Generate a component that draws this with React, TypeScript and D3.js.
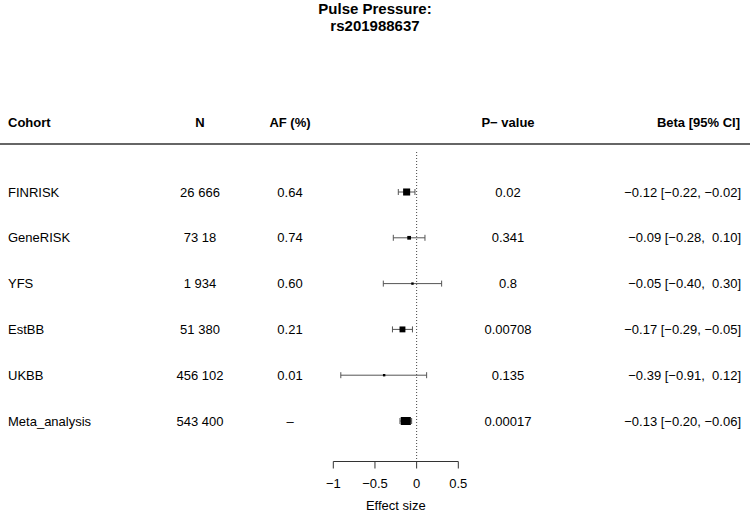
import React, { useEffect, useRef } from "react";
import * as d3 from "d3";

const cohorts = ["FINRISK", "GeneRISK", "YFS", "EstBB", "UKBB", "Meta_analysis"];
const nLabels = ["26 666", "73 18", "1 934", "51 380", "456 102", "543 400"];
const afLabels = ["0.64", "0.74", "0.60", "0.21", "0.01", "\u2013"];
const pLabels = ["0.02", "0.341", "0.8", "0.00708", "0.135", "0.00017"];
const betas = [-0.12, -0.09, -0.05, -0.17, -0.39, -0.13];
const lowers = [-0.22, -0.28, -0.4, -0.29, -0.91, -0.2];
const uppers = [-0.02, 0.1, 0.3, -0.05, 0.12, -0.06];
const xTicks = [-1, -0.5, 0, 0.5];

const W = 750;
const H = 512;
const FONT = "'Liberation Sans', Arial, Helvetica, sans-serif";

const App: React.FC = () => {
  const ref = useRef<SVGSVGElement>(null);

  useEffect(() => {
    const svg = d3.select(ref.current);
    svg.selectAll("*").remove();

    const x = d3.scaleLinear().domain([-1, 0.5]).range([333.3, 458.3]);
    const y = d3.scalePoint<string>().domain(cohorts).range([192, 421]);
    const f2 = d3.format(".2f");
    const pad = (v: number) => (v < 0 ? f2(v) : " " + f2(v));

    const g = svg.append("g").attr("font-family", FONT).attr("fill", "black");

    // title
    g.append("text")
      .attr("x", 375)
      .attr("y", 14)
      .attr("text-anchor", "middle")
      .attr("font-size", 15)
      .attr("font-weight", "bold")
      .text("Pulse Pressure:");
    g.append("text")
      .attr("x", 375)
      .attr("y", 31)
      .attr("text-anchor", "middle")
      .attr("font-size", 15)
      .attr("font-weight", "bold")
      .text("rs201988637");

    // header
    const headers = [
      { t: "Cohort", x: 8, a: "start" },
      { t: "N", x: 200, a: "middle" },
      { t: "AF (%)", x: 290, a: "middle" },
      { t: "P\u2212 value", x: 508, a: "middle" },
      { t: "Beta [95% CI]", x: 740, a: "end" },
    ];
    headers.forEach((h) => {
      g.append("text")
        .attr("x", h.x)
        .attr("y", 127)
        .attr("text-anchor", h.a)
        .attr("font-size", 13)
        .attr("font-weight", "bold")
        .text(h.t);
    });

    svg
      .append("line")
      .attr("x1", 0)
      .attr("x2", W)
      .attr("y1", 144)
      .attr("y2", 144)
      .attr("stroke", "#333")
      .attr("stroke-width", 1.5);

    // zero line
    svg
      .append("line")
      .attr("x1", x(0))
      .attr("x2", x(0))
      .attr("y1", 152)
      .attr("y2", 461)
      .attr("stroke", "#444")
      .attr("stroke-width", 1)
      .attr("stroke-dasharray", "1,2");

    // table text
    cohorts.forEach((c, i) => {
      const yy = (y(c) as number) + 4.5;
      const cols = [
        { t: c, x: 8, a: "start" },
        { t: nLabels[i], x: 200, a: "middle" },
        { t: afLabels[i], x: 290, a: "middle" },
        { t: pLabels[i], x: 508, a: "middle" },
        {
          t: `${f2(betas[i])} [${pad(lowers[i])}, ${pad(uppers[i])}]`,
          x: 741,
          a: "end",
        },
      ];
      cols.forEach((col) => {
        g.append("text")
          .attr("x", col.x)
          .attr("y", yy)
          .attr("text-anchor", col.a)
          .attr("font-size", 13)
          .style("white-space", "pre")
          .text(col.t);
      });
    });

    // CIs and boxes
    const marks = svg.append("g");
    cohorts.forEach((c, i) => {
      const yy = y(c) as number;
      const x1 = x(lowers[i]);
      const x2 = x(uppers[i]);
      marks
        .append("line")
        .attr("x1", x1)
        .attr("x2", x2)
        .attr("y1", yy)
        .attr("y2", yy)
        .attr("stroke", "#555")
        .attr("stroke-width", 1);
      [x1, x2].forEach((xc) => {
        marks
          .append("line")
          .attr("x1", xc)
          .attr("x2", xc)
          .attr("y1", yy - 3)
          .attr("y2", yy + 3)
          .attr("stroke", "#555")
          .attr("stroke-width", 1);
      });
      const se = (uppers[i] - lowers[i]) / 3.92;
      const side = Math.max(2.4, 0.36 * Math.sqrt(1 / (se * se)));
      const h = Math.min(side, 8);
      marks
        .append("rect")
        .attr("x", x(betas[i]) - side / 2)
        .attr("y", yy - h / 2)
        .attr("width", side)
        .attr("height", h)
        .attr("fill", "black");
    });

    // axis
    const axis = svg.append("g").attr("transform", "translate(0,461.5)");
    axis
      .append("line")
      .attr("x1", x(-1))
      .attr("x2", x(0.5))
      .attr("stroke", "#333")
      .attr("stroke-width", 1);
    xTicks.forEach((t) => {
      axis
        .append("line")
        .attr("x1", x(t))
        .attr("x2", x(t))
        .attr("y1", 0)
        .attr("y2", 7)
        .attr("stroke", "#333")
        .attr("stroke-width", 1);
      axis
        .append("text")
        .attr("x", x(t))
        .attr("y", 26)
        .attr("text-anchor", "middle")
        .attr("font-family", FONT)
        .attr("font-size", 13)
        .text(d3.format("")(t).replace("-", "\u2212"));
    });
    svg
      .append("text")
      .attr("x", (x(-1) + x(0.5)) / 2)
      .attr("y", 510)
      .attr("text-anchor", "middle")
      .attr("font-family", FONT)
      .attr("font-size", 13)
      .text("Effect size");
  }, []);

  return (
    <svg
      ref={ref}
      width={W}
      height={H}
      style={{ position: "absolute", left: 0, top: 0, background: "white" }}
    />
  );
};

export default App;
